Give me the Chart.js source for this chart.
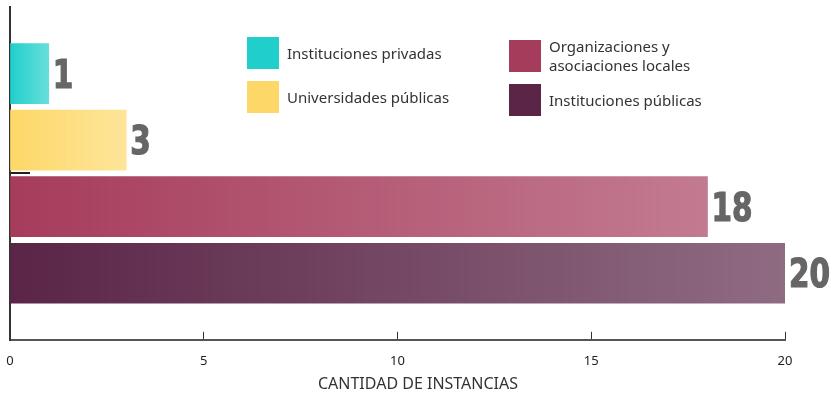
<!DOCTYPE html>
<html>
<head>
<meta charset="utf-8">
<script src="https://cdn.jsdelivr.net/npm/chart.js@4.4.1/dist/chart.umd.min.js"></script>
<style>
  html, body { margin: 0; padding: 0; background: #fff; }
  #wrap { position: relative; width: 836px; height: 401px; }
  #legend { position: absolute; left: 247px; top: 37px; width: 480px; height: 82px;
    font-family: "Noto Sans", sans-serif; font-size: 15px; color: #333; }
  .item { position: absolute; display: flex; align-items: center; }
  .sw { width: 32px; height: 32px; margin-right: 8px; flex: none; }
  .txt { line-height: 19px; }
</style>
</head>
<body>
<div id="wrap">
  <canvas id="chart" width="836" height="401"></canvas>
  <div id="legend"></div>
</div>
<script>
// data
const categories = ['Instituciones privadas', 'Universidades públicas', 'Organizaciones y asociaciones locales', 'Instituciones públicas'];
const legendLines = [['Instituciones privadas'], ['Universidades públicas'], ['Organizaciones y', 'asociaciones locales'], ['Instituciones públicas']];
const instancias = [1, 3, 18, 20];
const barColors = ['#20CFCB', '#FDD868', '#A63C5C', '#5A2547'];
const xTicks = [0, 5, 10, 15, 20];
const yMarks = [1.5];
const axisTitle = 'CANTIDAD DE INSTANCIAS';

// legend slots (left, top) inside #legend
const legendSlots = [[0, 0], [0, 44], [262, 0], [262, 47]];
const legendEl = document.getElementById('legend');
categories.forEach((c, i) => {
  const item = document.createElement('div');
  item.className = 'item';
  item.style.left = legendSlots[i][0] + 'px';
  item.style.top = legendSlots[i][1] + 'px';
  item.innerHTML = '<div class="sw" style="background:' + barColors[i] + '"></div>' +
    '<div class="txt">' + legendLines[i].join('<br>') + '</div>';
  legendEl.appendChild(item);
});

function fade(hex, a) {
  const n = parseInt(hex.slice(1), 16);
  return 'rgba(' + (n >> 16) + ',' + ((n >> 8) & 255) + ',' + (n & 255) + ',' + a + ')';
}

// big grey numbers at the end of each bar
const valueLabels = {
  id: 'valueLabels',
  afterDatasetsDraw(chart) {
    const ctx = chart.ctx;
    const meta = chart.getDatasetMeta(0);
    meta.data.forEach((bar, i) => {
      ctx.save();
      ctx.translate(bar.x + 4, bar.y + 14);
      ctx.scale(0.84, 1);
      ctx.font = 'bold 39px "DejaVu Sans Condensed", "DejaVu Sans", sans-serif';
      ctx.fillStyle = '#666';
      ctx.strokeStyle = '#666';
      ctx.lineWidth = 1.2;
      ctx.textAlign = 'left';
      ctx.textBaseline = 'alphabetic';
      ctx.fillText(String(instancias[i]), 0, 0);
      ctx.strokeText(String(instancias[i]), 0, 0);
      ctx.restore();
    });
  }
};

new Chart(document.getElementById('chart'), {
  type: 'bar',
  data: {
    labels: categories,
    datasets: [{
      data: instancias.map((v, i) => ({ x: v, y: i })),
      barThickness: 60,
      borderWidth: 0,
      backgroundColor: ctx => {
        const i = ctx.dataIndex;
        const chart = ctx.chart;
        if (!chart.chartArea || ctx.type !== 'data') return barColors[i];
        const xs = chart.scales.x;
        const g = chart.ctx.createLinearGradient(xs.getPixelForValue(0), 0, xs.getPixelForValue(instancias[i]), 0);
        g.addColorStop(0, barColors[i]);
        g.addColorStop(1, fade(barColors[i], 0.68));
        return g;
      }
    }]
  },
  options: {
    indexAxis: 'y',
    responsive: false,
    animation: false,
    layout: { padding: { top: 7, left: 0, right: 0, bottom: 0 } },
    plugins: {
      legend: { display: false },
      tooltip: { enabled: false },
      title: {
        display: true,
        position: 'bottom',
        text: axisTitle,
        color: '#333',
        font: { family: 'Noto Sans', size: 16, weight: 'normal' },
        padding: { top: 5, bottom: 7 }
      }
    },
    scales: {
      x: {
        type: 'linear',
        position: 'bottom',
        min: 0,
        max: 20,
        afterBuildTicks: s => { s.ticks = xTicks.map(v => ({ value: v })); },
        afterFit: s => { s.height = 30; s.paddingLeft = 4; s.paddingRight = 8; },
        grid: { display: true, drawOnChartArea: false, drawTicks: true, tickLength: -8, color: '#333', lineWidth: 1 },
        border: { display: true, color: '#555', width: 2 },
        ticks: { padding: 22, color: '#222', font: { family: 'Noto Sans', size: 13 }, maxRotation: 0 }
      },
      y: {
        type: 'linear',
        position: 'left',
        min: -1,
        max: 4,
        reverse: true,
        offset: false,
        afterBuildTicks: s => { s.ticks = yMarks.map(v => ({ value: v })); },
        afterFit: s => { s.width = 10; },
        ticks: { display: false },
        grid: { display: true, offset: false, drawOnChartArea: false, drawTicks: true, tickLength: -20, color: '#222', lineWidth: 2 },
        border: { display: true, color: '#333', width: 2 }
      },
      y2: {
        type: 'linear',
        position: 'right',
        display: true,
        afterFit: s => { s.width = 51; },
        ticks: { display: false },
        grid: { display: false },
        border: { display: false }
      }
    }
  },
  plugins: [valueLabels]
});
</script>
</body>
</html>
